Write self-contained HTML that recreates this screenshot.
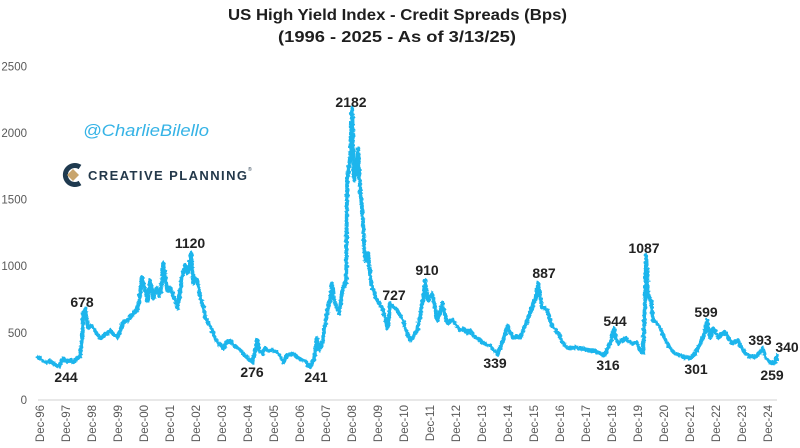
<!DOCTYPE html>
<html>
<head>
<meta charset="utf-8">
<style>
  html, body { margin: 0; padding: 0; background: #ffffff; }
  svg { display: block; }
  .t { font-family: "Liberation Sans", sans-serif; font-weight: bold; fill: #1e1e1e; }
  .ax { font-family: "Liberation Sans", sans-serif; font-size: 11.5px; fill: #595959; }
  .lb { font-family: "Liberation Sans", sans-serif; font-weight: bold; font-size: 14px; fill: #222; }
</style>
</head>
<body>
<svg width="800" height="448" viewBox="0 0 800 448" xmlns="http://www.w3.org/2000/svg">
  <defs>
    <filter id="jit" x="-2%" y="-5%" width="104%" height="110%">
      <feTurbulence type="fractalNoise" baseFrequency="0.35" numOctaves="2" seed="7" result="n"/>
      <feDisplacementMap in="SourceGraphic" in2="n" scale="3.5" xChannelSelector="R" yChannelSelector="G"/>
    </filter>
    <polyline id="ser" fill="none" stroke-linejoin="round" stroke-linecap="round"
    points="38,357 42,360 46,362 50,361 54,364 58,366 61,362 63,358 66,361 70,360 73,362 76,359 80,355 82,340 83,313 85,309 87,322 88,327 91,325 93,328 96,332 100,338 104,335 107,333 110,330 113,334 117,337 120,330 123,322 127,320 130,317 134,312 137,310 139,300 142,277 145,290 147,300 149,288 150,280 152,290 153,298 155,292 157,288 159,295 160,293 162,280 163,263 165,275 167,290 170,288 172,292 175,300 177,308 179,298 182,275 184,270 185,265 187,272 188,270 190,262 191,252 193,283 195,278 197,280 199,290 200,297 203,305 205,317 208,322 212,330 215,338 218,343 221,346 223,348 226,342 230,340 233,345 237,347 240,350 243,353 246,357 250,360 252,362 254,355 257,339 259,350 262,353 265,348 267,350 271,350 275,351 277,352 280,356 283,362 287,355 290,354 293,353 296,356 299,358 303,360 306,362 308,365 310,367 312,362 314,358 317,338 319,350 322,343 324,330 325,323 327,312 328,307 330,300 332,283 333,295 335,303 337,308 339,313 341,300 342,290 344,285 346,280 347,180 349,165 350,157 351,130 352,108 353,150 354,180 355,172 356,173 357,160 358,148 359,175 360,187 362,210 363,223 364,245 365,260 367,258 368,253 370,275 372,287 375,295 377,300 380,305 382,307 385,318 387,327 389,315 390,303 393,306 397,310 400,315 403,320 406,330 408,335 410,340 413,336 417,330 420,315 422,303 424,290 425,280 427,298 428,300 430,296 432,293 435,308 437,320 440,312 442,303 444,310 447,323 450,321 453,320 457,326 460,330 464,328 467,333 470,330 474,336 477,338 480,340 484,343 487,345 490,345 493,350 497,354 500,348 503,340 506,330 508,325 510,333 513,337 516,336 520,337 523,330 527,320 530,312 532,307 534,302 535,300 537,290 538,283 540,296 542,307 545,308 547,310 550,320 553,327 556,330 560,337 563,343 567,347 570,348 575,347 580,348 585,349 590,350 593,350 597,352 600,353 603,355 606,352 608,346 610,343 612,335 614,328 616,338 618,343 622,340 625,338 627,340 630,342 633,343 636,342 638,345 640,350 643,353 645,300 646,255 647,275 648,297 650,298 651,300 653,320 656,322 660,327 663,335 667,343 670,348 673,352 677,354 680,355 684,357 687,357 690,358 693,355 695,353 698,347 700,343 703,337 705,330 707,320 709,333 710,337 713,328 716,333 718,337 721,334 725,332 728,337 732,343 735,341 738,340 741,347 745,353 748,355 752,357 755,356 757,355 760,352 763,348 765,357 768,360 770,362 773,363 775,362 777,355"/>
  </defs>
  <rect width="800" height="448" fill="#ffffff"/>

  <!-- Title -->
  <text class="t" x="397.5" y="20" font-size="16" text-anchor="middle" textLength="339" lengthAdjust="spacingAndGlyphs">US High Yield Index - Credit Spreads (Bps)</text>
  <text class="t" x="397" y="42" font-size="16" text-anchor="middle" textLength="238" lengthAdjust="spacingAndGlyphs">(1996 - 2025 - As of 3/13/25)</text>

  <!-- Y axis labels -->
  <g class="ax" text-anchor="end">
    <text x="27" y="70.5">2500</text>
    <text x="27" y="137">2000</text>
    <text x="27" y="203.5">1500</text>
    <text x="27" y="270">1000</text>
    <text x="27" y="337">500</text>
    <text x="27" y="404">0</text>
  </g>

  <!-- Axis line -->
  <line x1="38" y1="400" x2="777" y2="400" stroke="#d9d9d9" stroke-width="1.2"/>

  <!-- X axis labels -->
  <g class="ax" text-anchor="end">
    <text transform="translate(44,405) rotate(-90)">Dec-96</text>
    <text transform="translate(70,405) rotate(-90)">Dec-97</text>
    <text transform="translate(96,405) rotate(-90)">Dec-98</text>
    <text transform="translate(122,405) rotate(-90)">Dec-99</text>
    <text transform="translate(148,405) rotate(-90)">Dec-00</text>
    <text transform="translate(174,405) rotate(-90)">Dec-01</text>
    <text transform="translate(200,405) rotate(-90)">Dec-02</text>
    <text transform="translate(226,405) rotate(-90)">Dec-03</text>
    <text transform="translate(252,405) rotate(-90)">Dec-04</text>
    <text transform="translate(278,405) rotate(-90)">Dec-05</text>
    <text transform="translate(304,405) rotate(-90)">Dec-06</text>
    <text transform="translate(330,405) rotate(-90)">Dec-07</text>
    <text transform="translate(356,405) rotate(-90)">Dec-08</text>
    <text transform="translate(382,405) rotate(-90)">Dec-09</text>
    <text transform="translate(408,405) rotate(-90)">Dec-10</text>
    <text transform="translate(434,405) rotate(-90)">Dec-11</text>
    <text transform="translate(460,405) rotate(-90)">Dec-12</text>
    <text transform="translate(486,405) rotate(-90)">Dec-13</text>
    <text transform="translate(512,405) rotate(-90)">Dec-14</text>
    <text transform="translate(538,405) rotate(-90)">Dec-15</text>
    <text transform="translate(564,405) rotate(-90)">Dec-16</text>
    <text transform="translate(590,405) rotate(-90)">Dec-17</text>
    <text transform="translate(616,405) rotate(-90)">Dec-18</text>
    <text transform="translate(642,405) rotate(-90)">Dec-19</text>
    <text transform="translate(668,405) rotate(-90)">Dec-20</text>
    <text transform="translate(694,405) rotate(-90)">Dec-21</text>
    <text transform="translate(720,405) rotate(-90)">Dec-22</text>
    <text transform="translate(746,405) rotate(-90)">Dec-23</text>
    <text transform="translate(772,405) rotate(-90)">Dec-24</text>
  </g>

  <!-- Watermark / logo -->
  <text x="83" y="136" font-family="Liberation Sans, sans-serif" font-style="italic" font-size="17" fill="#35b3e6" textLength="126" lengthAdjust="spacingAndGlyphs">@CharlieBilello</text>
  <g>
    <path d="M80,167 A9.5,9.5 0 1 0 80,183" fill="none" stroke="#1f3a4f" stroke-width="5"/>
    <polygon points="73,169 79,175 73,181 67,175" fill="#c8a46c"/>
  </g>
  <text x="88" y="180" font-family="Liberation Sans, sans-serif" font-weight="bold" font-size="13" fill="#23384a" textLength="159" lengthAdjust="spacing">CREATIVE PLANNING</text>
  <text x="248" y="171" font-family="Liberation Sans, sans-serif" font-size="5" fill="#23384a">®</text>

  <!-- Series -->
  <g filter="url(#jit)">
    <use href="#ser" stroke="#1cb5ec" stroke-width="3.6"/>
    <use href="#ser" stroke="#1cb5ec" stroke-width="3.0" transform="translate(0.6,1.1)"/>
  </g>

  <!-- Data labels -->
  <g class="lb" text-anchor="middle">
    <text x="351" y="107">2182</text>
    <text x="66" y="382">244</text>
    <text x="82" y="307">678</text>
    <text x="190" y="248">1120</text>
    <text x="252" y="377">276</text>
    <text x="316" y="382">241</text>
    <text x="394" y="300">727</text>
    <text x="427" y="275">910</text>
    <text x="495" y="368">339</text>
    <text x="544" y="278">887</text>
    <text x="608" y="370">316</text>
    <text x="615" y="326">544</text>
    <text x="644" y="253">1087</text>
    <text x="706" y="317">599</text>
    <text x="696" y="374">301</text>
    <text x="760" y="345">393</text>
    <text x="787" y="352">340</text>
    <text x="772" y="380">259</text>
  </g>
</svg>
</body>
</html>
